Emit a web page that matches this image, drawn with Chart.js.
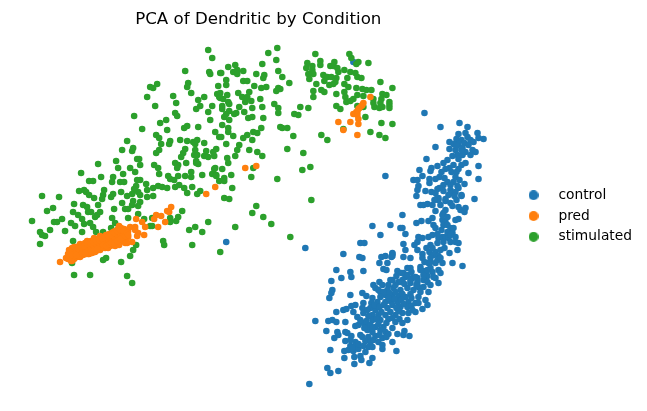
<!DOCTYPE html>
<html>
<head>
<meta charset="utf-8">
<title>PCA of Dendritic by Condition</title>
<script src="https://cdn.jsdelivr.net/npm/chart.js@4/dist/chart.umd.min.js"></script>
<style>
  html, body { margin: 0; padding: 0; background: #fff; }
  canvas { display: block; }
</style>
</head>
<body>
<canvas id="pcaChart" width="647" height="411"></canvas>
<script>
// Embedding values per condition, [pc1, pc2]. pc2 runs top to bottom on the axis.
var conditions = ['control', 'pred', 'stimulated'];
var colors = ['#1f77b4', '#ff7f0e', '#2ca02c'];

var controlPoints = [
  [226,242],[305,248],[353,62],[385,176],[372,226],[390,225],[380,235],[360,243],[364,243],[343,254],[359,257],[362,258],
  [381,257],[385,256],[392,253],[391,257],[400,228],
  [424,113],[440,127],[459,123],[467,127],[458,134],[465,133],[477,133],[467,137],[478,138],[483,139],
  [456,139],[461,140],[449,142],[470,140],[473,142],[464,143],[458,144],[453,144],[462,148],[449,149],
  [435,147],[455,150],[465,152],[472,150],[475,152],[457,155],[458,159],[470,155],[426,159],[447,160],
  [443,163],[437,166],[465,163],[461,165],[458,169],[453,165],[449,168],[445,169],[441,172],[478,166],
  [419,170],[431,168],[430,171],[468,173],[422,176],[439,177],[435,179],[429,179],[413,180],[417,180],
  [429,183],[447,182],[455,177],[459,180],[453,182],[478,179],[464,184],[443,185],[450,185],[457,186],
  [418,186],[417,190],[425,191],[431,192],[437,189],[435,193],[443,191],[450,190],[458,188],[452,193],
  [455,192],[461,195],[416,196],[438,198],[454,196],[474,199],[445,199],
  [402,215],[420,205],[423,205],[427,204],[432,205],[436,199],[438,200],[435,211],[445,201],[450,203],
  [461,196],[445,210],[443,213],[458,207],[460,210],[464,212],[465,208],[432,218],[428,221],[421,221],
  [416,223],[442,220],[445,222],[455,220],[458,219],[433,225],[435,228],[443,225],[450,228],[447,232],
  [452,233],[402,228],[405,234],[418,237],[422,238],[417,242],[428,237],[432,235],[438,238],
  [442,237],[445,237],[448,238],[455,237],[443,242],[450,242],[455,242],[458,243],[457,250],[437,243],
  [430,245],[403,244],[405,250],[414,245],[417,250],[422,254],[422,258],[403,257],[410,258],[392,254],
  [392,256],[429,252],[435,252],[440,250],[449,253],[433,255],[438,256],[430,258],[437,260],[428,263],
  [435,263],[442,263],[452,263],[462,266],[420,267],[430,268],[438,270],[423,271],[432,272],[410,268],
  [407,268],[397,271],[403,273],[440,273],[427,276],[417,278],[412,278],[405,277],[435,278],[423,280],
  [402,280],[398,282],[392,280],[417,282],[410,283],[427,282],
  [379,263],[387,263],[383,269],[386,270],[336,270],[350,272],[363,271],[351,277],[341,278],[331,281],
  [379,282],[382,285],[373,285],[375,288],[390,280],[388,285],[400,282],[407,275],[415,277],[423,275],
  [332,290],[331,293],[329,298],[350,295],[362,293],[366,296],[380,292],[387,290],[393,288],[400,290],
  [407,288],[413,290],[423,287],[428,292],[385,295],[392,295],[398,296],[405,297],[418,297],[425,300],
  [372,298],[371,303],[377,302],[385,302],[390,301],[397,302],[408,302],[415,303],[427,305],[363,303],
  [351,306],[355,305],[343,310],[346,309],[336,312],[353,312],[362,308],[363,313],[370,308],[375,310],
  [387,308],[400,307],[407,307],[422,309],[372,315],[378,315],[385,315],[395,315],[402,313],[408,313],
  [415,312],[357,317],[372,320],[380,320],[388,319],[395,322],[402,323],[407,320],[315,321],[328,321],
  [332,320],[336,322],[345,322],[358,325],[355,326],[363,323],[368,325],[375,327],[383,327],[392,328],
  [367,330],[372,332],[380,330],[385,332],[326,331],[337,332],[345,332],[347,333],[351,336],[338,335],
  [334,338],[368,337],[375,336],[382,338],[388,334],[397,334],[404,331],[403,335],[409,336],[345,341],
  [355,342],[365,341],[370,342],[378,342],[392,342],[350,346],[355,346],[368,347],[372,347],[382,345],
  [330,350],[344,351],[348,350],[353,351],[358,349],[365,352],[382,349],[396,351],[344,358],[354,357],
  [360,356],[361,360],[372,358],[369,363],[354,364],[327,368],[338,371],[330,373],[309,384],
  [378,290],[383,292],[389,293],[395,292],[402,294],[410,294],[380,297],[388,298],[394,299],[401,300],[411,298],
  [383,305],[392,305],[396,308],[403,304],[411,306],[418,303],[374,305],[367,310],[379,307],[368,316],[376,319],
  [381,312],[390,312],[398,311],[412,310],[366,321],[370,325],[378,324],[386,323],[392,318],[399,319],[360,320],
  [364,328],[372,328],[379,335],[386,337],[360,335],[362,337],[373,340],[350,340],[352,348],[358,344],[363,346],
  [395,285],[404,284],[410,280],[418,287],[396,276],[401,273],[411,272],[420,270],[427,270],[433,277],[438,283],
  [430,285],[420,292],[416,285],[430,262],[424,262],[432,248],[426,248],[440,258],[444,248],[450,235],[441,230],
  [437,234],[447,225],[453,228],[442,215],[447,217],[452,206],[440,205],[456,200],[434,200],[448,195],[439,188],
  [444,178],[451,172],[456,172],[462,155],[461,150],[452,156],[456,146],[468,145]
];

var predPoints = [
  [60,262],[66,258],[68,254],[68,259],[69,250],[71,253],[71,258],[72,248],[72,261],[74,250],[74,255],[74,259],
  [76,247],[77,252],[77,257],[79,246],[79,250],[80,255],[80,257],[82,245],[82,249],[83,253],[83,255],[85,243],
  [85,248],[86,252],[86,254],[88,242],[88,246],[88,254],[89,250],[89,254],[91,241],[91,245],[92,249],[92,253],
  [94,240],[94,244],[95,248],[95,252],[96,251],[97,239],[97,243],[98,247],[98,249],[100,238],[100,242],[101,246],
  [101,248],[103,237],[103,241],[104,245],[104,247],[105,248],[106,235],[106,239],[107,243],[107,247],[109,234],
  [109,238],[110,242],[110,246],[112,233],[112,237],[112,245],[113,241],[113,245],[115,231],[115,235],[116,239],
  [116,243],[118,229],[118,233],[119,226],[119,237],[119,241],[119,245],[121,228],[121,232],[122,236],[122,240],
  [124,229],[124,233],[124,238],[126,230],[126,235],[126,240],[128,231],[128,237],
  [70,256],[73,257],[78,254],[81,252],[84,250],[87,251],[90,247],[93,246],[96,245],[99,244],[102,243],[105,241],
  [108,240],[111,240],[114,237],[117,235],[120,234],[123,235],[125,243],[115,246],[108,248],[100,250],[90,253],
  [80,256],[71,261],[74,247],[80,244],[87,241],[94,238],[100,236],[107,235],[113,232],[118,229],
  [75,252],[78,249],[81,247],[84,246],[87,244],[90,243],[93,242],[96,241],[99,240],[102,239],[105,237],[108,236],
  [111,235],[114,233],[117,231],[120,230],[70,252],[72,255],[76,255],[82,253],[85,253],[91,251],[94,250],[97,249],
  [103,245],[106,246],[109,244],[111,243],[114,243],[117,241],[120,239],[123,231],[125,236],[127,233],
  [130,227],[136,219],[142,222],[135,227],[145,227],[138,233],[135,230],[128,235],[144,235],[137,236],[132,242],
  [127,243],[154,219],[156,215],[161,216],[158,227],[165,222],[167,211],[169,212],[171,207],[206,194],[215,187],
  [245,168],[256,166],
  [370,97],[363,103],[362,105],[361,106],[359,108],[358,109],[356,112],[357,112],[353,114],[357,115],[358,119],
  [358,124],[338,122],[350,122],[343,130],[357,135]
];

var stimulatedPoints = [
  [208,50],[212,58],[185,71],[209,72],[210,74],[220,73],[157,84],[150,87],[153,88],[188,83],[187,87],[191,93],
  [218,86],[173,96],[147,97],[176,103],[204,97],[217,94],[219,97],[198,100],[200,106],[196,109],[212,106],[208,112],
  [155,106],[134,116],[175,113],[177,116],[166,120],[160,123],[210,120],[198,127],[184,128],[187,126],[142,129],
  [167,130],[215,132],[156,135],[159,138],[127,141],[170,141],[169,144],[180,140],[187,141],[193,142],[197,140],
  [195,144],[161,144],[204,143],[219,137],[122,150],[132,151],[133,148],[156,153],[159,150],[185,149],[195,150],
  [206,151],[216,149],[213,152],[183,153],[181,157],[194,155],[197,155],[204,156],[208,157],[214,156],[196,161],
  [116,161],[98,164],[137,159],[139,159],[140,165],[154,165],[158,168],[118,168],[130,168],[175,163],[178,165],
  [186,163],[196,163],[198,164],[177,168],[215,168],
  [81,173],[101,177],[89,181],[93,181],[113,177],[112,182],[123,174],[135,172],[120,182],[124,182],[137,180],
  [140,180],[146,184],[159,174],[168,176],[170,179],[174,180],[178,176],[185,176],[191,172],[191,177],[202,175],
  [212,174],[216,175],[219,181],[136,186],[134,189],[79,191],[84,190],[86,192],[89,195],[104,190],[103,195],
  [94,198],[102,199],[113,194],[111,197],[121,192],[127,196],[132,194],[138,192],[140,195],[147,190],[153,188],
  [158,186],[162,187],[167,188],[175,187],[179,185],[184,188],[187,193],[192,187],[197,194],[200,191],[42,196],
  [59,197],[147,197],[153,196],[74,204],[53,208],[47,211],[83,205],[87,207],[98,205],[114,209],[122,203],[125,209],
  [128,209],[133,201],[132,205],[140,202],[138,206],[73,212],[78,215],[88,212],[91,212],[100,212],[97,215],[95,217],
  [82,219],[62,219],[57,222],[54,222],[32,221],[71,223],[75,226],[84,224],[90,223],[93,227],[112,218],[115,223],
  [128,218],[138,214],[144,219],[152,218],[170,218],[178,217],[182,211],[176,221],[170,222],[208,222],[150,226],
  [152,226],[189,230],[195,227],[202,232],[50,230],[40,232],[42,235],[45,236],[65,231],[82,232],[96,232],[103,232],
  [111,228],[73,241],[40,244],[163,241],[164,245],[192,245],[136,245],[133,250],[130,256],[220,252],[106,258],
  [103,260],[121,262],[72,263],[74,275],[90,275],[127,276],[132,283],
  [268,53],[277,48],[276,60],[262,64],[278,71],[235,65],[228,67],[237,70],[233,72],[237,74],[243,71],[221,73],
  [256,74],[264,75],[263,78],[243,81],[247,81],[226,80],[226,85],[254,86],[261,88],[266,87],[278,88],[276,91],
  [220,93],[227,95],[220,98],[223,99],[238,93],[242,97],[249,92],[247,97],[245,102],[251,101],[260,99],[228,102],
  [229,104],[222,106],[222,109],[239,107],[252,108],[262,107],[274,104],[278,108],[278,113],[229,111],[226,114],
  [224,117],[236,113],[234,114],[244,112],[248,118],[252,117],[263,118],[229,120],[222,125],[228,128],[261,128],
  [253,132],[257,133],[247,135],[243,138],[252,140],[221,137],[233,136],[280,127],
  [293,136],[287,149],[303,153],[302,170],[310,167],[277,179],[311,200],[228,132],[226,144],[239,145],[237,150],
  [249,150],[257,152],[262,156],[235,156],[227,158],[228,163],[222,169],[214,169],[231,175],[216,176],[251,177],
  [253,168],[224,178],[224,181],[232,188],[224,198],[229,199],[256,206],[252,213],[263,217],[271,224],[290,237],
  [235,227],
  [315,54],[349,54],[351,58],[356,64],[358,62],[368,63],[307,63],[320,61],[320,65],[306,68],[312,66],[312,70],
  [334,62],[330,66],[333,66],[337,68],[338,72],[344,70],[308,74],[313,74],[323,75],[309,79],[327,77],[331,77],
  [336,78],[335,82],[350,72],[355,73],[357,77],[347,78],[361,78],[324,81],[329,85],[333,84],[316,84],[344,84],
  [348,87],[380,82],[392,88],[356,88],[362,89],[366,90],[371,90],[289,83],[282,77],[280,89],[313,91],[321,90],
  [324,92],[313,97],[336,94],[344,92],[357,95],[363,96],[345,97],[346,102],[350,101],[353,99],[382,94],[386,95],
  [373,99],[381,99],[389,102],[373,103],[380,103],[389,105],[374,107],[379,108],[382,107],[389,108],[357,106],
  [363,107],[336,106],[340,109],[300,107],[308,108],[294,114],[298,115],[365,117],[381,123],[392,124],[282,128],
  [287,128],[321,135],[327,140],[343,129],[370,132],[379,135],[385,138]
];

function toXY(points) {
    return points.map(function (p) { return { x: p[0], y: p[1] }; });
}

// Round swatch for the legend, so the gap to the text can be set through pointStyleWidth
function legendDot(color) {
    var c = document.createElement('canvas');
    c.width = 10;
    c.height = 10;
    var g = c.getContext('2d');
    g.fillStyle = color;
    g.beginPath();
    g.arc(5, 5, 5, 0, Math.PI * 2);
    g.fill();
    return c;
}

var series = [controlPoints, predPoints, stimulatedPoints];
var layerOrder = [3, 1, 2]; // pred on top, control at the bottom

var datasets = conditions.map(function (name, i) {
    return {
        label: name,
        data: toXY(series[i]),
        backgroundColor: colors[i],
        pointRadius: 3.3,
        pointBorderWidth: 0,
        pointHoverRadius: 3.3,
        order: layerOrder[i]
    };
});

var ctx = document.getElementById('pcaChart').getContext('2d');
var pcaChart = new Chart(ctx, {
    type: 'scatter',
    data: { datasets: datasets },
    options: {
        responsive: false,
        animation: false,
        layout: { padding: { left: 8, right: 5, top: 0, bottom: 10 } },
        scales: {
            x: { display: false, min: 8, max: 508 },
            y: { display: false, min: 31, max: 401, reverse: true }
        },
        plugins: {
            title: {
                display: true,
                text: 'PCA of Dendritic by Condition',
                fullSize: false,
                color: '#000',
                font: { family: '"DejaVu Sans"', size: 16.67, weight: 'normal', lineHeight: 1.2 },
                padding: { top: 10, bottom: 1 }
            },
            legend: {
                position: 'right',
                fullSize: false,
                labels: {
                    usePointStyle: true,
                    pointStyleWidth: 36,
                    boxHeight: 10,
                    padding: 7,
                    color: '#000',
                    font: { family: '"DejaVu Sans"', size: 13.8 },
                    generateLabels: function (chart) {
                        return chart.data.datasets.map(function (d, i) {
                            return {
                                text: d.label,
                                fillStyle: d.backgroundColor,
                                strokeStyle: d.backgroundColor,
                                lineWidth: 0,
                                pointStyle: legendDot(d.backgroundColor),
                                datasetIndex: i,
                                hidden: false
                            };
                        });
                    }
                }
            },
            tooltip: { enabled: false }
        }
    }
});
</script>
</body>
</html>
